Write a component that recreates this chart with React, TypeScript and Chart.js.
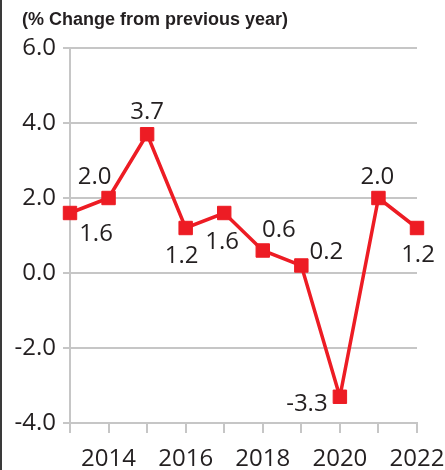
import React, { useEffect, useRef } from "react";
import { Chart, registerables } from "chart.js";

Chart.register(...registerables);

const years = ["2013", "2014", "2015", "2016", "2017", "2018", "2019", "2020", "2021", "2022"];
const changeValues = [1.6, 2.0, 3.7, 1.2, 1.6, 0.6, 0.2, -3.3, 2.0, 1.2];
const yTickMin = -4;
const yTickMax = 6;
const yTickStep = 2;
const titleText = "(% Change from previous year)";

// label placement relative to each point (style only)
const labelOffsets: [number, number][] = [
  [26, 19], [-14, -23], [0, -24], [-4, 26], [-2, 27],
  [16, -22], [25, -15], [-33, 6], [-1, -23], [1, 25],
];

const TEXT = "#231f20";
const GRID = "#c6c6c6";
const RED = "#ed1c24";
const FONT = "'Open Sans', 'Noto Sans', sans-serif";

const dataLabelPlugin = {
  id: "dataLabels",
  afterDatasetsDraw(chart: any) {
    const ctx = chart.ctx;
    const meta = chart.getDatasetMeta(0);
    ctx.save();
    ctx.font = `24px ${FONT}`;
    ctx.fillStyle = TEXT;
    ctx.textAlign = "center";
    ctx.textBaseline = "alphabetic";
    meta.data.forEach((pt: any, i: number) => {
      const v = changeValues[i];
      const [dx, dy] = labelOffsets[i];
      ctx.fillText(v.toFixed(1), pt.x + dx, pt.y + dy + 8.5);
    });
    ctx.restore();
  },
};

const frameAndTitlePlugin = {
  id: "frameAndTitle",
  afterDraw(chart: any) {
    const ctx = chart.ctx;
    ctx.save();
    ctx.fillStyle = "#3a3a3a";
    ctx.fillRect(0, 0, 2, chart.height);
    ctx.font = "bold 18px 'Liberation Sans', Arial, sans-serif";
    ctx.fillStyle = TEXT;
    ctx.textAlign = "left";
    ctx.textBaseline = "alphabetic";
    ctx.fillText(titleText, 22, 25);
    ctx.restore();
  },
};

export default function App() {
  const ref = useRef<HTMLCanvasElement | null>(null);
  useEffect(() => {
    if (!ref.current) return;
    const chart = new Chart(ref.current, {
      type: "line",
      data: {
        labels: years,
        datasets: [
          {
            data: changeValues,
            borderColor: RED,
            backgroundColor: RED,
            borderWidth: 3.5,
            pointStyle: "rect",
            pointRadius: 9.5,
            pointBorderWidth: 1,
            pointBackgroundColor: RED,
            pointBorderColor: RED,
            tension: 0,
          },
        ],
      },
      options: {
        responsive: false,
        animation: false,
        layout: { padding: { left: 2, right: 28, top: 48, bottom: 0 } },
        plugins: {
          legend: { display: false },
          tooltip: { enabled: false },
          title: { display: false },
        },
        scales: {
          x: {
            offset: false,
            afterFit: (s: any) => { s.height = 47; s.paddingLeft = 0; s.paddingRight = 0; },
            grid: { drawOnChartArea: false, drawTicks: true, tickLength: 10, color: GRID, lineWidth: 2 },
            border: { display: true, color: GRID, width: 2 },
            ticks: {
              autoSkip: false,
              maxRotation: 0,
              padding: 12,
              color: TEXT,
              font: { family: FONT, size: 24 },
              callback: (_v: any, i: number) => (i % 2 === 1 ? years[i] : ""),
            },
          },
          y: {
            min: yTickMin,
            max: yTickMax,
            afterFit: (s: any) => { s.width = 68; },
            grid: { color: GRID, lineWidth: 2, tickLength: 7 },
            border: { display: true, color: GRID, width: 2 },
            ticks: {
              stepSize: yTickStep,
              padding: 7,
              color: TEXT,
              font: { family: FONT, size: 24 },
              callback: (v: any) => Number(v).toFixed(1),
            },
          },
        },
      },
      plugins: [dataLabelPlugin, frameAndTitlePlugin],
    } as any);
    return () => chart.destroy();
  }, []);
  return (
    <div style={{ position: "absolute", left: 0, top: 0, width: 445, height: 470, background: "#fff" }}>
      <canvas ref={ref} width={445} height={470} style={{ display: "block" }} />
    </div>
  );
}
